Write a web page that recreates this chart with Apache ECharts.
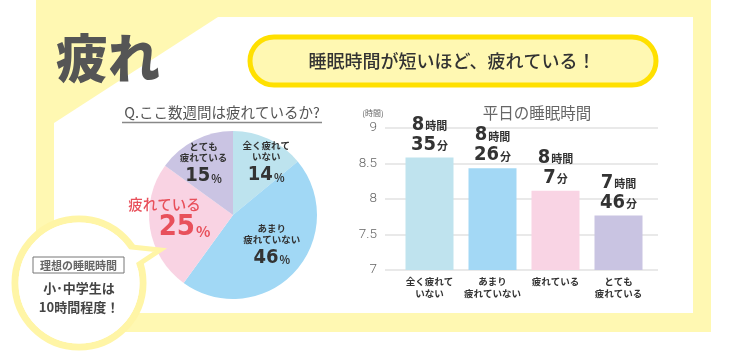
<!DOCTYPE html>
<html><head><meta charset="utf-8">
<script src="https://cdn.jsdelivr.net/npm/echarts@6/dist/echarts.min.js"></script>
<style>html,body{margin:0;padding:0;background:#fff}#c{width:749px;height:359px}</style>
</head><body><div id="c"></div>
<script>
var JP = '"Noto Sans CJK JP", "Noto Sans", sans-serif';
var NUM = '"DejaVu Sans Condensed", "Liberation Sans Narrow", "Roboto", sans-serif';

// Pie data
var pieNames = ['全く疲れて\nいない', 'あまり\n疲れていない', '疲れている', 'とても\n疲れている'];
var pieValues = [14, 46, 25, 15];
var pieColors = ['#bde3ee', '#a1d8f5', '#f9d3e3', '#cac4e3'];

// Bar data (hours)
var barCats = ['全く疲れて\nいない', 'あまり\n疲れていない', '疲れている', 'とても\n疲れている'];
var barHours = [8, 8, 8, 7];
var barMinutes = [35, 26, 7, 46];
var barValues = barHours.map(function (h, i) { return h + barMinutes[i] / 60; });
var barColors = ['#bfe3ee', '#a3d8f5', '#f9d4e4', '#c9c4e2'];
var yTicks = [7, 7.5, 8, 8.5, 9];

var chart = echarts.init(document.getElementById('c'), null, {renderer: 'canvas'});

var pieOffsets = [[14, -10], [6, 1], [-4, 0], [-9, -10]];

var option = {
  animation: false,
  backgroundColor: '#fff',
  title: [{
    text: '平日の睡眠時間', left: 532, top: 100, textAlign: 'center',
    textStyle: {fontFamily: JP, fontSize: 15.5, fontWeight: 'normal', color: '#666'}
  }],
  graphic: [
    {type: 'rect', z: -10, shape: {x: 36, y: 0, width: 675, height: 332}, style: {fill: '#fff8b2'}},
    {type: 'polygon', z: -9, shape: {points: [[218, 17], [693, 17], [693, 313], [54, 313], [54, 123]]}, style: {fill: '#fff'}},
    {type: 'text', style: {text: '疲れ', x: 56, y: 58, textVerticalAlign: 'middle', font: '900 52px ' + JP, fill: '#555'}},
    {type: 'rect', shape: {x: 250, y: 37, width: 406, height: 48, r: 24}, style: {fill: '#fff8b2', stroke: '#ffe000', lineWidth: 5}},
    {type: 'text', style: {text: '睡眠時間が短いほど、疲れている！', x: 452, y: 61, textAlign: 'center', textVerticalAlign: 'middle', font: '500 18px ' + JP, fill: '#333'}},
    {type: 'text', style: {text: 'Q.ここ数週間は疲れているか?', x: 222, y: 112, textAlign: 'center', textVerticalAlign: 'middle', font: '14.5px ' + JP, fill: '#555'}},
    {type: 'line', shape: {x1: 122, y1: 122.5, x2: 322, y2: 122.5}, style: {stroke: '#888', lineWidth: 1.5}},
    {type: 'text', style: {text: '(時間)', x: 373, y: 113, textAlign: 'center', textVerticalAlign: 'middle', font: '8px ' + JP, fill: '#666'}},
    // speech bubble
    {type: 'circle', z: 20, shape: {cx: 79, cy: 283, r: 64}, style: {fill: '#fff', stroke: '#fff5a6', lineWidth: 7}},
    {type: 'polygon', z: 21, shape: {points: [[133, 268], [160, 250], [122, 246]]}, style: {fill: '#fff', stroke: '#fff5a6', lineWidth: 5, lineJoin: 'miter'}},
    {type: 'circle', z: 22, shape: {cx: 79, cy: 283, r: 60.5}, style: {fill: '#fff'}},
    {type: 'rect', z: 23, shape: {x: 33, y: 257, width: 91, height: 16}, style: {fill: '#fff', stroke: '#777', lineWidth: 1}},
    {type: 'text', z: 24, style: {text: '理想の睡眠時間', x: 78.5, y: 265.5, textAlign: 'center', textVerticalAlign: 'middle', font: 'bold 11px ' + JP, fill: '#666'}},
    {type: 'text', z: 24, style: {text: '小･中学生は', x: 79, y: 288, textAlign: 'center', textVerticalAlign: 'middle', font: 'bold 13px ' + JP, fill: '#444'}},
    {type: 'text', z: 24, style: {text: '10時間程度！', x: 79, y: 307, textAlign: 'center', textVerticalAlign: 'middle', font: 'bold 13px ' + JP, fill: '#444'}}
  ],
  grid: [
    {left: 385, right: 91, top: 128, bottom: 89},
    {left: 398, right: 99, top: 128, bottom: 89}
  ],
  xAxis: [
    {gridIndex: 0, type: 'category', data: barCats, show: false},
    {gridIndex: 1, type: 'category', data: barCats,
     axisLine: {show: false}, axisTick: {show: false},
     axisLabel: {interval: 0, margin: 5, lineHeight: 12, fontFamily: JP, fontSize: 9.5, fontWeight: 'bold', color: '#333'}}
  ],
  yAxis: [
    {gridIndex: 0, type: 'value', min: 7, max: 9, interval: 0.5,
     axisLine: {show: false}, axisTick: {show: false},
     axisLabel: {margin: 8, fontFamily: 'Roboto, sans-serif', fontWeight: 300, fontSize: 13.5, color: '#666',
       formatter: function (v) { return yTicks.indexOf(v) >= 0 ? String(v) : ''; }},
     splitLine: {lineStyle: {color: '#e2e2e2', width: 1.5}}},
    {gridIndex: 1, type: 'value', min: 7, max: 9, show: false, splitLine: {show: false}}
  ],
  series: [
    {
      type: 'pie', center: [233, 215], radius: [0, 84], startAngle: 90, clockwise: true,
      silent: true, avoidLabelOverlap: false,
      itemStyle: {borderWidth: 0},
      data: pieValues.map(function (v, i) {
        var isRed = i === 2;
        return {
          name: pieNames[i], value: v, itemStyle: {color: pieColors[i]},
          label: isRed ? {
            formatter: '{t|{b}}\n{n|{c}}{p|%}',
            rich: {
              t: {fontFamily: JP, fontSize: 14.5, fontWeight: 500, color: '#e8505b', padding: [0, 40, 2, 0]},
              n: {fontFamily: NUM, fontSize: 29, fontWeight: 'bold', color: '#e8505b', lineHeight: 34},
              p: {fontFamily: JP, fontSize: 15, fontWeight: 'bold', color: '#e8505b', padding: [8, 0, 0, 1]}
            }
          } : undefined
        };
      }),
      label: {
        show: true, position: 'inside',
        formatter: '{t|{b}}\n{n|{c}}{p|%}',
        rich: {
          t: {fontFamily: JP, fontSize: 9.5, fontWeight: 'bold', color: '#333', lineHeight: 11, align: 'center'},
          n: {fontFamily: NUM, fontSize: 20, fontWeight: 'bold', color: '#333', lineHeight: 26},
          p: {fontFamily: JP, fontSize: 11, fontWeight: 'bold', color: '#333', padding: [5, 0, 0, 1]}
        }
      },
      labelLine: {show: false},
      labelLayout: function (p) {
        var o = pieOffsets[p.dataIndex];
        return {dx: o[0], dy: o[1]};
      }
    },
    {
      type: 'bar', xAxisIndex: 1, yAxisIndex: 1, barWidth: 48,
      silent: true,
      data: barValues.map(function (v, i) {
        return {value: v, itemStyle: {color: barColors[i]}};
      }),
      label: {
        show: true, position: 'top', distance: 3,
        formatter: function (p) {
          return '{n|' + barHours[p.dataIndex] + '}{u|時間}\n{n|' + barMinutes[p.dataIndex] + '}{u|分}';
        },
        rich: {
          n: {fontFamily: NUM, fontSize: 20, fontWeight: 'bold', color: '#333', lineHeight: 20},
          u: {fontFamily: JP, fontSize: 11, fontWeight: 'bold', color: '#333', padding: [3, 0, 0, 1]}
        }
      }
    }
  ]
};
chart.setOption(option);
</script></body></html>
